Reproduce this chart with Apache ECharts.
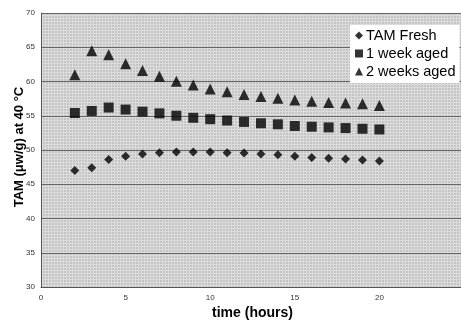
<!DOCTYPE html>
<html><head><meta charset="utf-8">
<script src="https://cdn.jsdelivr.net/npm/echarts@6/dist/echarts.min.js"></script>
<style>html,body{margin:0;padding:0;background:#fff}#c{width:461px;height:321px}</style>
</head><body><div id="c"></div>
<script>
var hours = [2,3,4,5,6,7,8,9,10,11,12,13,14,15,16,17,18,19,20];
var fresh = [47.0,47.4,48.6,49.1,49.4,49.6,49.7,49.7,49.7,49.6,49.55,49.4,49.3,49.1,48.9,48.8,48.7,48.55,48.4];
var week1 = [55.4,55.7,56.2,55.9,55.6,55.35,55.0,54.7,54.5,54.3,54.1,53.9,53.75,53.5,53.4,53.3,53.2,53.1,53.0];
var week2 = [61.0,64.5,63.9,62.6,61.6,60.75,60.05,59.5,58.9,58.5,58.1,57.8,57.55,57.3,57.1,56.95,56.85,56.75,56.5];
var seriesNames = ['TAM Fresh','1 week aged','2 weeks aged'];

function pair(xs, ys){ return xs.map(function(x,i){ return [x, ys[i]]; }); }

// background texture tile
var tile = document.createElement('canvas');
tile.width = 3; tile.height = 3;
var tc = tile.getContext('2d');
tc.fillStyle = '#c4c4c4'; tc.fillRect(0,0,3,3);
tc.fillStyle = '#dcdcdc'; tc.fillRect(0,0,3,1); tc.fillRect(0,0,1,3);

var chart = echarts.init(document.getElementById('c'), null, {renderer:'canvas'});
var font = 'Liberation Sans, Arial, sans-serif';
chart.setOption({
  animation:false,
  backgroundColor:'#fff',
  grid:{left:41, top:13, right:-3, bottom:34, containLabel:false, outerBoundsMode:'none', show:true, backgroundColor:{image:tile, repeat:'repeat'}, borderWidth:0},
  legend:{
    orient:'vertical', left:350, top:25, right:null,
    backgroundColor:'#fff', borderWidth:0, padding:[3,4,4,5],
    itemWidth:8, itemHeight:8, itemGap:3,
    textStyle:{fontFamily:font, fontSize:14.5, color:'#000', padding:[0,0,0,-2]},
    data:[{name:seriesNames[0], icon:'diamond'},{name:seriesNames[1], icon:'rect'},{name:seriesNames[2], icon:'triangle'}]
  },
  xAxis:{
    type:'value', min:0, max:25, interval:5,
    name:'time (hours)', nameLocation:'middle', nameGap:19, nameMoveOverlap:false,
    nameTextStyle:{fontFamily:font, fontSize:14, fontWeight:'bold', color:'#000'},
    axisLine:{show:true, lineStyle:{color:'#555', width:1}},
    axisTick:{show:false},
    axisLabel:{fontFamily:font, fontSize:8, color:'#333', margin:7, showMaxLabel:false},
    splitLine:{show:false}
  },
  yAxis:{
    type:'value', min:30, max:70, interval:5,
    name:'TAM (\u03bcw/g) at 40 \u00b0C', nameLocation:'middle', nameGap:15, nameRotate:90, nameMoveOverlap:false,
    nameTextStyle:{fontFamily:font, fontSize:13, fontWeight:'bold', color:'#000', padding:[0,0,0,6]},
    axisLine:{show:true, lineStyle:{color:'#555', width:1}},
    axisTick:{show:false},
    axisLabel:{fontFamily:font, fontSize:8, color:'#333', margin:6},
    splitLine:{show:true, lineStyle:{color:'#666', width:1}}
  },
  series:[
    {name:seriesNames[0], type:'scatter', symbol:'diamond', symbolSize:9, itemStyle:{color:'#000'}, data:pair(hours, fresh)},
    {name:seriesNames[1], type:'scatter', symbol:'rect', symbolSize:10, itemStyle:{color:'#000'}, data:pair(hours, week1)},
    {name:seriesNames[2], type:'scatter', symbol:'triangle', symbolSize:11, itemStyle:{color:'#000'}, data:pair(hours, week2)}
  ]
});
</script></body></html>
